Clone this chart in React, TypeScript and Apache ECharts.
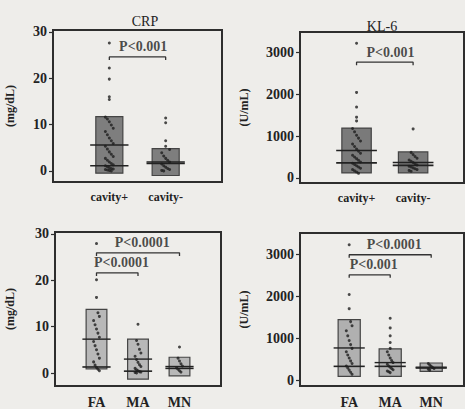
import React, { useEffect, useRef } from "react";
import * as echarts from "echarts";

const cavityCats = ["cavity+", "cavity-"];
const typeCats = ["FA", "MA", "MN"];
const titles = ["CRP", "KL-6", "", ""];
const units = ["(mg/dL)", "(U/mL)", "(mg/dL)", "(U/mL)"];
const crpTicks = [0, 10, 20, 30];
const kl6Ticks = [0, 1000, 2000, 3000];

// box = mean ± SD, lines = mean and median
const crpCavMean = [5.6, 1.9];
const crpCavSD = [6.1, 2.9];
const crpCavMedian = [1.1, 1.6];
const kl6CavMean = [655, 370];
const kl6CavSD = [535, 250];
const kl6CavMedian = [360, 300];
const crpTypeMean = [7.3, 3.0, 1.4];
const crpTypeSD = [6.4, 4.3, 2.0];
const crpTypeMedian = [1.3, 0.4, 1.0];
const kl6TypeMean = [770, 420, 310];
const kl6TypeSD = [680, 330, 100];
const kl6TypeMedian = [330, 330, 290];

// individual values
const crpCavPlus = [27.6, 22.2, 19.8, 16.0, 15.4, 11.6, 11.2, 10.6, 9.9, 9.2, 8.5, 7.8, 7.1, 6.5, 5.9, 5.3, 4.7, 4.1, 3.6, 3.1, 2.7, 2.3, 1.9, 1.6, 1.3, 1.1, 0.9, 0.7, 0.5, 0.4, 0.3, 0.2, 0.1, 0.0];
const crpCavMinus = [11.4, 10.4, 6.5, 5.3, 4.6, 3.9, 3.2, 2.7, 2.3, 1.9, 1.5, 1.1, 0.8, 0.5, 0.3, 0.1, 0.0];
const kl6CavPlus = [3210, 2040, 1690, 1450, 1360, 1180, 1100, 1020, 950, 880, 810, 750, 690, 640, 590, 540, 500, 460, 420, 380, 350, 320, 290, 260, 230, 200, 170, 140, 110];
const kl6CavMinus = [1170, 610, 560, 510, 470, 430, 400, 370, 340, 310, 280, 260, 240, 220, 200, 180, 160];
const crpFA = [27.9, 20.1, 16.3, 13.0, 12.2, 11.3, 10.4, 9.5, 8.6, 7.7, 6.8, 5.9, 5.0, 4.1, 3.2, 2.4, 1.7, 1.2, 0.8, 0.5];
const crpMA = [10.5, 7.0, 6.2, 5.1, 4.3, 3.6, 2.9, 2.3, 1.8, 1.4, 1.0, 0.7, 0.5, 0.3, 0.2, 0.1, 0.0];
const crpMN = [5.6, 3.2, 2.6, 2.0, 1.5, 1.1, 0.8, 0.5, 0.2];
const kl6FA = [3240, 2050, 1710, 1400, 1300, 1180, 1060, 950, 850, 760, 680, 600, 530, 460, 400, 340, 290, 240, 190, 140];
const kl6MA = [1480, 1250, 1060, 900, 760, 680, 600, 530, 470, 420, 380, 340, 310, 280, 250, 220, 200, 180];
const kl6MN = [400, 360, 330, 300, 280, 260, 240];

// significance annotations: [from category, to category, bracket value, label]
const pCrpCav = [[1, 2, 24.6, "P<0.001"]];
const pKl6Cav = [[1, 2, 2760, "P<0.001"]];
const pCrpType = [[1, 3, 25.9, "P<0.0001"], [1, 2, 21.6, "P<0.0001"]];
const pKl6Type = [[1, 3, 3000, "P<0.0001"], [1, 2, 2520, "P<0.001"]];

const FONT = "'Liberation Serif', 'DejaVu Serif', serif";
const DARK = "#2e2e2e";

export default function App() {
  const ref = useRef<HTMLDivElement>(null);
  useEffect(() => {
    document.body.style.margin = "0";
    const chart = echarts.init(ref.current!, null, { renderer: "svg" });

    const grids = [
      { left: 53, top: 30, width: 169, height: 152 },
      { left: 300, top: 32, width: 164, height: 151 },
      { left: 55, top: 232, width: 166, height: 155 },
      { left: 300, top: 233, width: 164, height: 154 },
    ];
    const xRanges = [[0, 3], [0, 2.9], [0, 4], [-0.2, 3.8]];
    const yRanges = [[-2.4, 30.4], [-120, 3480], [-2.8, 30.4], [-140, 3520]];
    const cats = [cavityCats, cavityCats, typeCats, typeCats];
    const ticks = [crpTicks, kl6Ticks, crpTicks, kl6Ticks];
    const nameGaps = [37, 50, 39, 50];
    const means = [crpCavMean, kl6CavMean, crpTypeMean, kl6TypeMean];
    const sds = [crpCavSD, kl6CavSD, crpTypeSD, kl6TypeSD];
    const medians = [crpCavMedian, kl6CavMedian, crpTypeMedian, kl6TypeMedian];
    const points = [
      [crpCavPlus, crpCavMinus],
      [kl6CavPlus, kl6CavMinus],
      [crpFA, crpMA, crpMN],
      [kl6FA, kl6MA, kl6MN],
    ];
    const pAnn = [pCrpCav, pKl6Cav, pCrpType, pKl6Type];
    const boxHalf = [0.24, 0.26, 0.25, 0.27];
    const lineHalf = [0.34, 0.36, 0.34, 0.38];
    const boxFill = ["#7e7e7e", "#7a7a7a", "#b8b8b8", "#b0b0b0"];

    const series: any[] = [];
    const xAxis: any[] = [];
    const yAxis: any[] = [];

    grids.forEach((g, gi) => {
      const span = yRanges[gi][1] - yRanges[gi][0];
      xAxis.push({
        type: "value",
        gridIndex: gi,
        min: xRanges[gi][0],
        max: xRanges[gi][1],
        splitLine: { show: false },
        axisLine: { show: true, onZero: false, lineStyle: { color: DARK, width: 2 } },
        axisTick: { show: false },
        axisLabel: {
          customValues: cats[gi].map((_, i) => i + 1),
          formatter: (v: number) => cats[gi][Math.round(v) - 1] ?? "",
          fontFamily: FONT,
          fontWeight: "bold",
          fontSize: gi < 2 ? 12 : 14,
          color: "#222",
          margin: 9,
        },
      });
      yAxis.push({
        type: "value",
        gridIndex: gi,
        min: yRanges[gi][0],
        max: yRanges[gi][1],
        name: units[gi],
        nameLocation: "middle",
        nameGap: nameGaps[gi],
        nameRotate: 90,
        nameTextStyle: { fontFamily: FONT, fontWeight: "bold", fontSize: 12, color: "#222" },
        splitLine: { show: false },
        axisLine: { show: true, onZero: false, lineStyle: { color: DARK, width: 2 } },
        axisTick: { show: true, customValues: ticks[gi], length: 4, lineStyle: { color: DARK, width: 1.2 } },
        axisLabel: {
          customValues: ticks[gi],
          formatter: (v: number) => String(v),
          fontFamily: FONT,
          fontWeight: "bold",
          fontSize: 14,
          color: "#222",
          margin: 6,
        },
      });

      // boxes (mean ± SD), mean and median lines
      const boxData = means[gi].map((m, i) => [i + 1, m, sds[gi][i], medians[gi][i]]);
      const hw = boxHalf[gi];
      const lw = lineHalf[gi];
      series.push({
        type: "custom",
        xAxisIndex: gi,
        yAxisIndex: gi,
        z: 1,
        silent: true,
        data: boxData,
        encode: { x: 0, y: 1 },
        renderItem: (params: any, api: any) => {
          const x = api.value(0);
          const m = api.value(1);
          const sd = api.value(2);
          const md = api.value(3);
          const p1 = api.coord([x - hw, m + sd]);
          const p2 = api.coord([x + hw, m - sd]);
          const a1 = api.coord([x - lw, m]);
          const a2 = api.coord([x + lw, m]);
          const b1 = api.coord([x - lw, md]);
          const b2 = api.coord([x + lw, md]);
          return {
            type: "group",
            children: [
              {
                type: "rect",
                shape: { x: p1[0], y: p1[1], width: p2[0] - p1[0], height: p2[1] - p1[1] },
                style: { fill: boxFill[gi], stroke: "#444", lineWidth: 1.2 },
              },
              { type: "line", shape: { x1: a1[0], y1: a1[1], x2: a2[0], y2: a2[1] }, style: { stroke: "#222", lineWidth: 1.4 }, z2: 5 },
              { type: "line", shape: { x1: b1[0], y1: b1[1], x2: b2[0], y2: b2[1] }, style: { stroke: "#222", lineWidth: 1.6 }, z2: 5 },
            ],
          };
        },
      });

      // individual points (beeswarm-like offsets inside the box)
      const dots: number[][] = [];
      points[gi].forEach((vals, ci) => {
        const top = means[gi][ci] + sds[gi][ci];
        vals.forEach((v, k) => {
          const off = v <= top ? (((k % 5) - 2) * 0.035) : 0;
          dots.push([ci + 1 + off, v]);
        });
      });
      series.push({
        type: "scatter",
        xAxisIndex: gi,
        yAxisIndex: gi,
        z: 3,
        silent: true,
        symbolSize: 3,
        itemStyle: { color: "#1e1e1e" },
        data: dots,
      });

      // significance brackets
      pAnn[gi].forEach((p: any) => {
        const [a, b, y, label] = p;
        const drop = span * 0.02;
        series.push({
          type: "line",
          xAxisIndex: gi,
          yAxisIndex: gi,
          z: 4,
          silent: true,
          symbol: "none",
          lineStyle: { color: "#333", width: 1.3 },
          data: [[a, y - drop], [a, y], [b, y], [b, y - drop]],
        });
        series.push({
          type: "scatter",
          xAxisIndex: gi,
          yAxisIndex: gi,
          z: 5,
          silent: true,
          symbolSize: 1,
          itemStyle: { color: "rgba(0,0,0,0)" },
          label: {
            show: true,
            position: "inside",
            formatter: label,
            fontFamily: FONT,
            fontWeight: "bold",
            fontSize: 14,
            color: "#1e1e1e",
          },
          data: [[(a + b) / 2 + 0.1, y + span * 0.065]],
        });
      });
    });

    chart.setOption({
      animation: false,
      backgroundColor: "#eeedea",
      title: [
        { text: titles[0], left: 140, top: 9, textAlign: "center", textStyle: { fontFamily: FONT, fontSize: 14, fontWeight: "normal", color: "#222" } },
        { text: titles[1], left: 377, top: 14, textAlign: "center", textStyle: { fontFamily: FONT, fontSize: 14, fontWeight: "normal", color: "#222" } },
      ],
      grid: grids.map((g) => ({ ...g, show: true, borderColor: DARK, borderWidth: 2, backgroundColor: "transparent" })),
      xAxis,
      yAxis,
      series,
    });
    return () => chart.dispose();
  }, []);
  return <div ref={ref} style={{ width: 465, height: 409 }} />;
}
